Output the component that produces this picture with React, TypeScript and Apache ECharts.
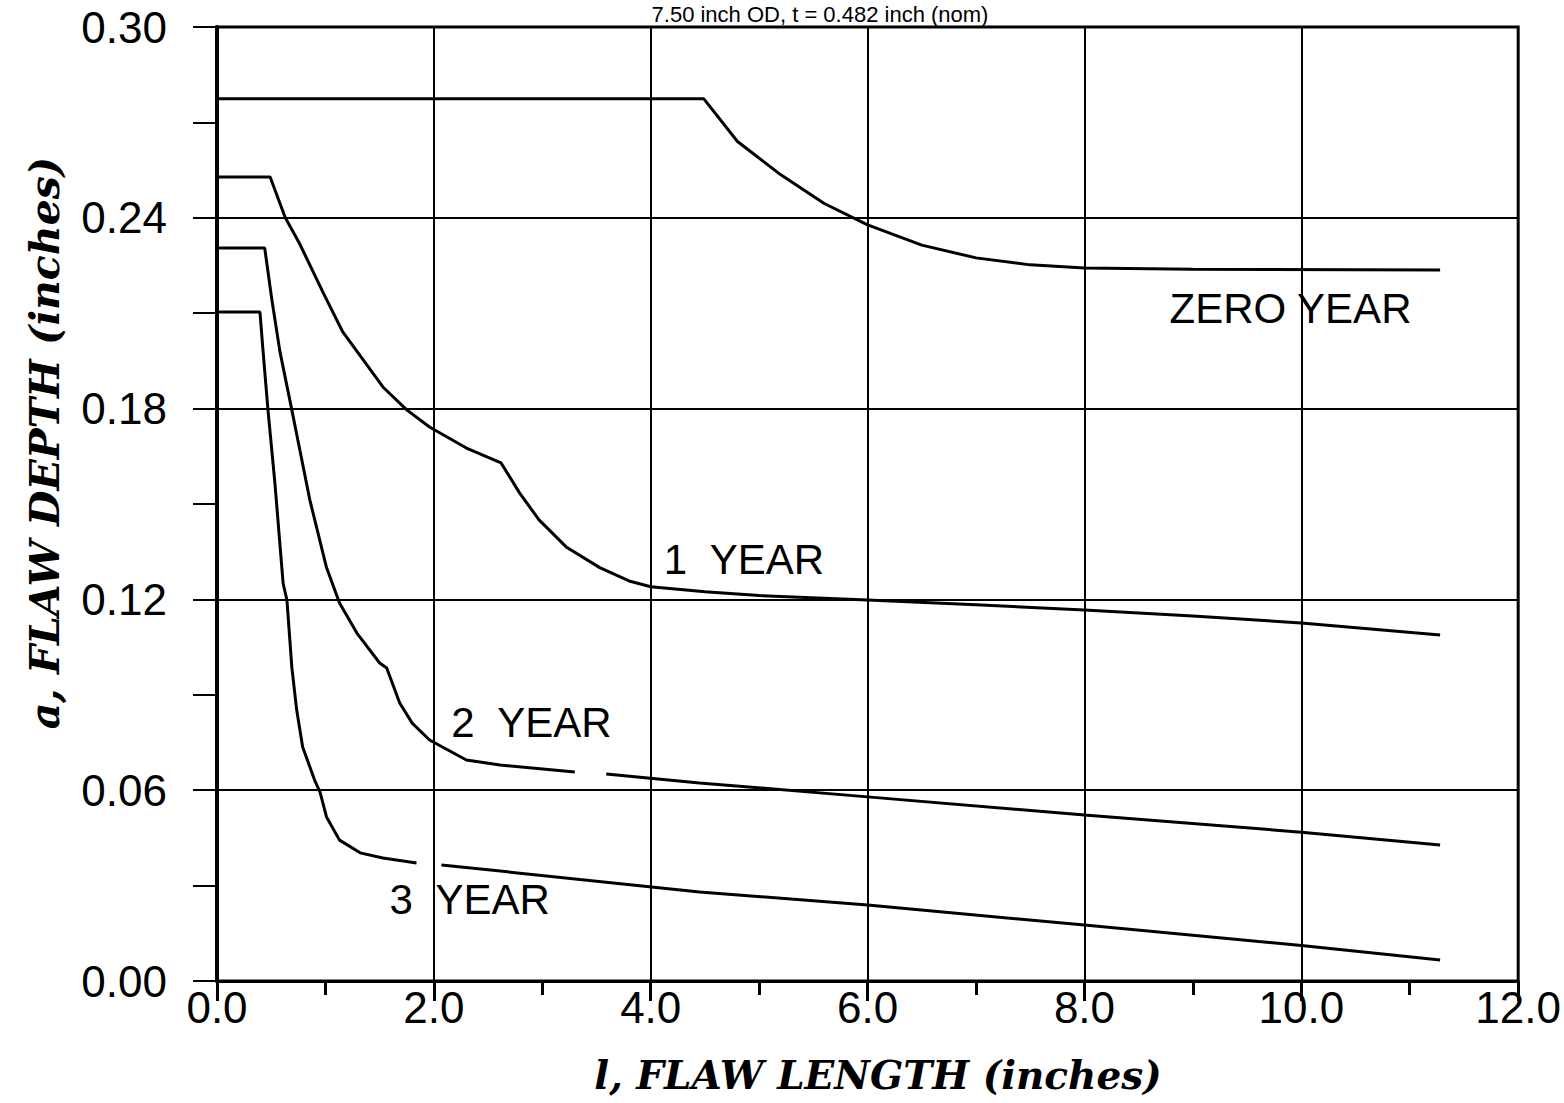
import React, { useEffect, useRef } from "react";
import * as echarts from "echarts";

const titleText = "7.50 inch OD, t = 0.482 inch (nom)";
const xAxisName = "l, FLAW LENGTH (inches)";
const yAxisName = "a, FLAW DEPTH (inches)";

const zeroYear: [number, number][] = [
  [0, 0.2774], [4.49, 0.2774], [4.8, 0.264], [5.2, 0.2535], [5.6, 0.2445], [6.0, 0.2378],
  [6.5, 0.2314], [7.0, 0.2274], [7.5, 0.2252], [8.0, 0.2242], [9.0, 0.2238], [11.28, 0.2236],
];
const oneYear: [number, number][] = [
  [0, 0.2528], [0.49, 0.2528], [0.63, 0.240], [0.76, 0.232], [0.98, 0.2164], [1.16, 0.2041],
  [1.53, 0.1868], [1.75, 0.1796], [1.96, 0.1742], [2.3, 0.1676], [2.62, 0.1629], [2.79, 0.1535],
  [2.97, 0.145], [3.22, 0.1365], [3.53, 0.130], [3.8, 0.1258], [4.0, 0.124], [4.5, 0.1224],
  [5.0, 0.1212], [6.0, 0.1198], [7.0, 0.1183], [8.0, 0.1167], [9.0, 0.1148], [10.0, 0.1126],
  [11.28, 0.1088],
];
const twoYear: [number, number | string][] = [
  [0, 0.2305], [0.44, 0.2305], [0.506, 0.2142], [0.58, 0.198], [0.69, 0.1796], [0.764, 0.167],
  [0.856, 0.1513], [1.01, 0.130], [1.13, 0.1189], [1.29, 0.1094], [1.5, 0.100], [1.565, 0.0984],
  [1.685, 0.0874], [1.8, 0.0811], [1.96, 0.0758], [2.3, 0.0695], [2.61, 0.0679], [3.3, 0.0657],
  [3.45, "-"],
  [3.59, 0.0651], [4.45, 0.0623], [6.0, 0.0579], [8.0, 0.0522], [10.0, 0.0468], [11.28, 0.0428],
];
const threeYear: [number, number | string][] = [
  [0, 0.2104], [0.396, 0.2104], [0.424, 0.1984], [0.47, 0.1796], [0.534, 0.1566], [0.61, 0.125],
  [0.645, 0.1198], [0.69, 0.0987], [0.735, 0.0852], [0.79, 0.0736], [0.9, 0.0632], [0.95, 0.0594],
  [1.01, 0.0516], [1.13, 0.0443], [1.32, 0.0403], [1.53, 0.0387], [1.84, 0.0371],
  [1.95, "-"],
  [2.07, 0.0365], [4.45, 0.028], [6.0, 0.0239], [8.0, 0.0176], [10.0, 0.0112], [11.28, 0.0066],
];
const curveLabels: { text: string; x: number; y: number }[] = [
  { text: "ZERO YEAR", x: 9.9, y: 0.2116 },
  { text: "1  YEAR", x: 4.86, y: 0.1324 },
  { text: "2  YEAR", x: 2.9, y: 0.0814 },
  { text: "3  YEAR", x: 2.33, y: 0.0255 },
];

const lineSeries = (data: any[]) => ({
  type: "line",
  data,
  showSymbol: false,
  symbol: "none",
  connectNulls: false,
  lineStyle: { color: "#000", width: 3 },
  z: 5,
});

export default function App() {
  const ref = useRef<HTMLDivElement>(null);
  useEffect(() => {
    if (!ref.current) return;
    const chart = echarts.init(ref.current, null, { renderer: "svg" });
    chart.setOption({
      animation: false,
      backgroundColor: "#fff",
      grid: { left: 217, right: 44, top: 27, bottom: 122, show: true, borderColor: "#000", borderWidth: 3 },
      xAxis: {
        type: "value",
        min: 0,
        max: 12,
        interval: 2,
        axisLine: { show: true, lineStyle: { color: "#000", width: 3 } },
        axisTick: { show: true, length: 20, lineStyle: { color: "#000", width: 3 } },
        minorTick: { show: true, splitNumber: 2, length: 14, lineStyle: { color: "#000", width: 3 } },
        splitLine: { show: true, lineStyle: { color: "#000", width: 2 } },
        axisLabel: {
          formatter: (v: number) => v.toFixed(1),
          fontFamily: "Liberation Sans, Arial, sans-serif",
          fontSize: 44,
          color: "#000",
          margin: 4,
        },
      },
      yAxis: {
        type: "value",
        min: 0,
        max: 0.3,
        interval: 0.06,
        axisLine: { show: true, lineStyle: { color: "#000", width: 4 } },
        axisTick: { show: true, length: 24, lineStyle: { color: "#000", width: 2 } },
        minorTick: { show: true, splitNumber: 2, length: 24, lineStyle: { color: "#000", width: 2 } },
        splitLine: { show: true, lineStyle: { color: "#000", width: 2 } },
        axisLabel: {
          formatter: (v: number) => v.toFixed(2),
          fontFamily: "Liberation Sans, Arial, sans-serif",
          fontSize: 44,
          color: "#000",
          margin: 50,
        },
      },
      series: [
        lineSeries(zeroYear),
        lineSeries(oneYear),
        lineSeries(twoYear),
        lineSeries(threeYear),
        {
          type: "scatter",
          symbolSize: 0,
          itemStyle: { opacity: 1, color: "#000" },
          data: curveLabels.map((l) => ({ value: [l.x, l.y], name: l.text })),
          label: {
            show: true,
            position: "inside",
            formatter: (p: any) => p.name,
            fontFamily: "Liberation Sans, Arial, sans-serif",
            fontSize: 42,
            color: "#000",
            textBorderWidth: 0,
          },
          z: 10,
        },
      ],
      graphic: [
        {
          type: "text",
          x: 820,
          y: 14,
          style: {
            text: titleText,
            fontFamily: "Liberation Sans, Arial, sans-serif",
            fontSize: 22,
            fill: "#000",
            align: "center",
            verticalAlign: "middle",
          },
        },
        {
          type: "text",
          x: 878,
          y: 1075,
          style: {
            text: xAxisName,
            fontFamily: "DejaVu Serif, serif",
            fontStyle: "italic",
            fontWeight: "bold",
            fontSize: 39,
            fill: "#000",
            align: "center",
            verticalAlign: "middle",
          },
        },
        {
          type: "text",
          x: 45,
          y: 443,
          rotation: Math.PI / 2,
          style: {
            text: yAxisName,
            fontFamily: "DejaVu Serif, serif",
            fontStyle: "italic",
            fontWeight: "bold",
            fontSize: 41,
            fill: "#000",
            align: "center",
            verticalAlign: "middle",
          },
        },
      ],
    });
    return () => chart.dispose();
  }, []);
  return (
    <div
      ref={ref}
      style={{ position: "fixed", left: 0, top: 0, width: 1564, height: 1103, background: "#fff" }}
    />
  );
}
